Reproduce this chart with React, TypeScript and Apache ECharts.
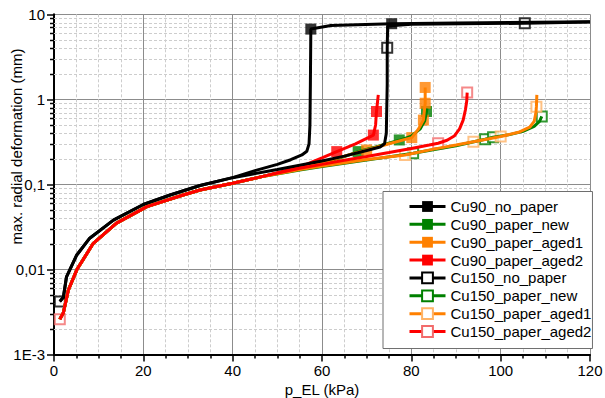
import React, { useEffect, useRef } from 'react';
import * as echarts from 'echarts';

type Pt = [number, number];

const FONT = '"Liberation Sans", Arial, Helvetica, sans-serif';

// ---- axis ticks ----
const yTickValues = [0.001, 0.01, 0.1, 1, 10];
const yTickLabels = ['1E-3', '0,01', '0,1', '1', '10'];
const yMinorValues: number[] = [];
[0.001, 0.01, 0.1, 1].forEach((d) => {
  [2, 3, 4, 5, 6, 7, 8, 9].forEach((m) => yMinorValues.push(+(d * m).toPrecision(3)));
});

// ---- series names ----
const seriesNames = [
  'Cu90_no_paper',
  'Cu90_paper_new',
  'Cu90_paper_aged1',
  'Cu90_paper_aged2',
  'Cu150_no_paper',
  'Cu150_paper_new',
  'Cu150_paper_aged1',
  'Cu150_paper_aged2',
];

// ---- data (x: kPa, y: mm) ----
const blackLow: Pt[] = [
  [1.3, 0.0042], [2.1, 0.0047], [2.8, 0.0082], [5.1, 0.0148], [8, 0.0233],
  [13.3, 0.038], [20, 0.058], [26, 0.075], [32.7, 0.097], [40, 0.12],
];
const paperLow: Pt[] = [
  [1.3, 0.0026], [2.1, 0.0031], [3.2, 0.0057], [5.1, 0.0099], [8.8, 0.0203],
  [14, 0.035], [20.8, 0.0547], [28.9, 0.075], [32.7, 0.086], [40, 0.103], [47, 0.125],
];

const cu90NoPaper: Pt[] = [
  ...blackLow,
  [45, 0.145], [50, 0.172], [53, 0.195], [55.5, 0.222], [56.6, 0.245], [57.1, 0.3],
  [57.3, 0.5], [57.4, 1.5], [57.5, 6.7], [62, 7.4], [75.6, 7.75], [90, 7.9], [120, 8.2],
];
const cu90NoPaperMarks: Pt[] = [[57.5, 6.7], [75.6, 7.75]];

const cu90PaperNew: Pt[] = [
  ...paperLow,
  [55, 0.155], [60, 0.178], [65, 0.212], [68.1, 0.243], [72, 0.275], [77.3, 0.33],
  [80, 0.37], [82, 0.45], [83, 0.56], [83.4, 0.72], [83.5, 0.78],
];
const cu90PaperNewMarks: Pt[] = [[68.1, 0.243], [77.3, 0.333], [83.4, 0.72]];

const cu90PaperAged1: Pt[] = [
  ...paperLow,
  [55, 0.155], [60, 0.18], [65, 0.215], [70, 0.254], [75, 0.3], [80.1, 0.355],
  [81.5, 0.44], [82.7, 0.57], [83.1, 0.9], [83.1, 1.38],
];
const cu90PaperAged1Marks: Pt[] = [[70, 0.254], [80.1, 0.355], [82.7, 0.57], [83.1, 0.9], [83.1, 1.38]];

const cu90PaperAged2: Pt[] = [
  ...paperLow,
  [55, 0.16], [60, 0.205], [63.3, 0.243], [67.5, 0.3], [71.5, 0.38], [72, 0.5],
  [72.2, 0.72], [72.6, 1.13],
];
const cu90PaperAged2Marks: Pt[] = [[63.3, 0.243], [71.5, 0.38], [72.2, 0.72]];

const cu150NoPaper: Pt[] = [
  ...blackLow,
  [50, 0.15], [55, 0.168], [60, 0.188], [65, 0.215], [70, 0.25], [73, 0.275], [74, 0.3],
  [74.4, 0.4], [74.6, 1.5], [74.6, 4.05], [74.7, 7.3], [80, 7.65], [105.4, 7.85], [120, 8.1],
];
const cu150NoPaperMarks: Pt[] = [[1.3, 0.0042], [74.6, 4.05], [105.4, 7.85]];

const cu150PaperNew: Pt[] = [
  ...paperLow,
  [55, 0.148], [60, 0.162], [70, 0.193], [80.4, 0.232], [90, 0.285], [96.5, 0.34],
  [98.3, 0.358], [102, 0.385], [105, 0.42], [107.5, 0.48], [108.7, 0.55], [109.2, 0.63],
];
const cu150PaperNewMarks: Pt[] = [[80.4, 0.232], [96.5, 0.34], [98.3, 0.358], [109.2, 0.627]];

const cu150PaperAged1: Pt[] = [
  ...paperLow,
  [55, 0.15], [60, 0.165], [70, 0.196], [78.6, 0.222], [85, 0.26], [90, 0.29],
  [93.9, 0.318], [100, 0.365], [104, 0.41], [106.5, 0.47], [107.5, 0.55], [107.9, 0.7],
  [108, 0.82], [108.1, 1.13],
];
const cu150PaperAged1Marks: Pt[] = [[78.6, 0.222], [93.9, 0.318], [100, 0.365], [108, 0.82]];

const cu150PaperAged2: Pt[] = [
  ...paperLow,
  [55, 0.155], [60, 0.172], [65, 0.192], [70, 0.213], [75, 0.237], [80, 0.265],
  [84, 0.29], [86, 0.305], [88, 0.33], [89.6, 0.37], [90.8, 0.45], [91.6, 0.57],
  [92.1, 0.75], [92.4, 0.95], [92.5, 1.2],
];
const cu150PaperAged2Marks: Pt[] = [[1.3, 0.0026], [86, 0.305], [92.5, 1.2]];

const seriesData: Pt[][] = [
  cu90NoPaper, cu90PaperNew, cu90PaperAged1, cu90PaperAged2,
  cu150NoPaper, cu150PaperNew, cu150PaperAged1, cu150PaperAged2,
];
const seriesMarks: Pt[][] = [
  cu90NoPaperMarks, cu90PaperNewMarks, cu90PaperAged1Marks, cu90PaperAged2Marks,
  cu150NoPaperMarks, cu150PaperNewMarks, cu150PaperAged1Marks, cu150PaperAged2Marks,
];

// ---- styles ----
const seriesStyles = [
  { line: '#000000', border: '#000000', hollow: false },
  { line: '#008000', border: '#008000', hollow: false },
  { line: '#ff8000', border: '#ff8000', hollow: false },
  { line: '#ff0000', border: '#ff0000', hollow: false },
  { line: '#000000', border: '#000000', hollow: true },
  { line: '#008000', border: '#008000', hollow: true },
  { line: '#ff8000', border: '#ffb366', hollow: true },
  { line: '#ff0000', border: '#f26b6b', hollow: true },
];

function buildOption(): any {
  const series: any[] = [];

  series.push({
    type: 'custom',
    name: '__yminor',
    silent: true,
    z: 1,
    clip: false,
    data: yMinorValues.map((v) => [0, v]),
    renderItem: (params: any, api: any) => {
      const cs = params.coordSys;
      const y = Math.round(api.coord([0, api.value(1)])[1]) + 0.5;
      return {
        type: 'group',
        children: [
          {
            type: 'line',
            shape: { x1: cs.x, y1: y, x2: cs.x + cs.width, y2: y },
            style: { stroke: '#cdcdcd', lineWidth: 1, lineDash: [3, 2] },
          },
          {
            type: 'line',
            shape: { x1: cs.x - 4, y1: y, x2: cs.x, y2: y },
            style: { stroke: '#000', lineWidth: 1.5 },
          },
        ],
      };
    },
  });

  seriesNames.forEach((name, i) => {
    const st = seriesStyles[i];
    const itemStyle = st.hollow
      ? { color: '#ffffff', borderColor: st.border, borderWidth: 2 }
      : { color: st.line, borderWidth: 0 };
    series.push({
      type: 'line',
      name,
      data: seriesData[i],
      symbol: 'rect',
      showSymbol: false,
      lineStyle: { color: st.line, width: 3 },
      itemStyle,
      emphasis: { disabled: true },
      silent: true,
    });
    series.push({
      type: 'scatter',
      name,
      data: seriesMarks[i],
      symbol: 'rect',
      symbolSize: st.hollow ? 10 : 11,
      itemStyle,
      emphasis: { disabled: true },
      silent: true,
    });
  });

  return {
    animation: false,
    backgroundColor: '#ffffff',
    textStyle: { fontFamily: FONT },
    grid: { left: 54, right: 15, top: 14.3, bottom: 43.5, show: false, outerBoundsMode: 'none' },
    xAxis: {
      type: 'value',
      min: 0,
      max: 120,
      interval: 20,
      axisLine: { show: true, onZero: false, lineStyle: { color: '#000', width: 2 } },
      axisTick: { show: true, inside: false, length: 7, lineStyle: { color: '#000', width: 1.5 } },
      minorTick: { show: true, splitNumber: 4, length: 4, lineStyle: { color: '#000', width: 1.5 } },
      splitLine: { show: true, lineStyle: { color: '#8c8c8c', width: 1 } },
      minorSplitLine: { show: true, lineStyle: { color: '#cdcdcd', width: 1, type: [3, 2] } },
      axisLabel: { color: '#000', fontSize: 15, fontFamily: FONT, margin: 8 },
      name: 'p_EL (kPa)',
      nameLocation: 'middle',
      nameGap: 25,
      nameTextStyle: { color: '#000', fontSize: 15, fontFamily: FONT },
    },
    yAxis: {
      type: 'log',
      logBase: 10,
      min: 0.001,
      max: 10,
      axisLine: { show: true, onZero: false, lineStyle: { color: '#000', width: 2 } },
      axisTick: { show: true, inside: false, length: 7, lineStyle: { color: '#000', width: 1.5 } },
      minorTick: { show: false },
      splitLine: { show: true, lineStyle: { color: '#8c8c8c', width: 1 } },
      axisLabel: {
        color: '#000',
        fontSize: 15,
        fontFamily: FONT,
        margin: 9,
        formatter: (v: number) => {
          const i = yTickValues.findIndex((t) => Math.abs(Math.log10(t) - Math.log10(v)) < 1e-6);
          return i >= 0 ? yTickLabels[i] : '';
        },
      },
    },
    legend: {
      data: seriesNames,
      orient: 'vertical',
      left: 383,
      top: 191.5,
      padding: [6.5, 1, 8.5, 25],
      itemGap: 0.86,
      itemWidth: 36,
      itemHeight: 13.5,
      backgroundColor: '#ffffff',
      borderColor: '#6e6e6e',
      borderWidth: 1,
      borderRadius: 0,
      selectedMode: false,
      z: 10,
      lineStyle: { width: 3 },
      textStyle: { color: '#000', fontSize: 15, fontFamily: FONT, lineHeight: 17 },
    },
    graphic: [
      {
        type: 'text',
        x: 16.5,
        y: 146.5,
        rotation: Math.PI / 2,
        style: {
          text: 'max. radial deformation (mm)',
          fill: '#000',
          font: `15px ${FONT}`,
          textAlign: 'center',
          textVerticalAlign: 'middle',
        },
      },
    ],
    series,
  };
}

export default function App() {
  const ref = useRef<HTMLDivElement>(null);
  useEffect(() => {
    if (!ref.current) return;
    const chart = echarts.init(ref.current, null, { renderer: 'svg' });
    chart.setOption(buildOption());
    return () => chart.dispose();
  }, []);
  return (
    <div
      ref={ref}
      style={{ position: 'fixed', left: 0, top: 0, width: 605, height: 398, background: '#fff' }}
    />
  );
}
